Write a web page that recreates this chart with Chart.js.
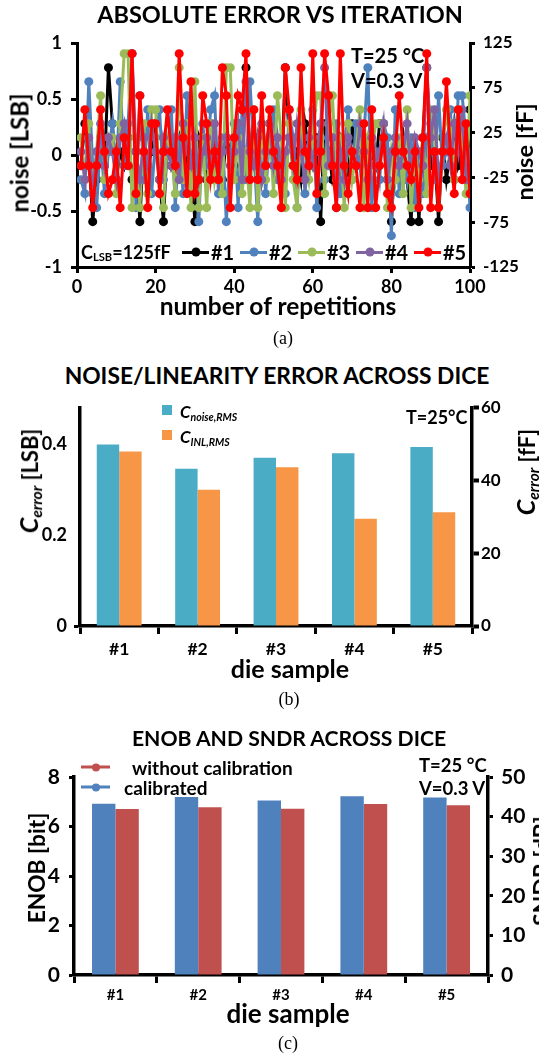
<!DOCTYPE html>
<html>
<head>
<meta charset="utf-8">
<script src="https://cdn.jsdelivr.net/npm/chart.js@4.4.0/dist/chart.umd.min.js"></script>
<style>
body{margin:0;background:#fff;width:539px;height:1055px;position:relative;overflow:hidden;font-family:Lato,'Open Sans',sans-serif;font-weight:bold;color:#000}
canvas{position:absolute;left:0}
.t{position:absolute;white-space:nowrap;transform:translate(-50%,-50%)}
.l{position:absolute;white-space:nowrap;transform:translateY(-50%)}
.rot{transform:translate(-50%,-50%) rotate(-90deg)}
.cap{font-family:'Liberation Serif',serif;font-weight:normal;font-size:18px}
.ci{font-style:italic}
sub{font-size:62%;vertical-align:-0.25em}
.legend{position:absolute;display:flex;align-items:center;transform:translateY(-50%)}
.item{display:flex;align-items:center}
.sample{position:relative;height:3px}
.dot{position:absolute;left:50%;top:50%;border-radius:50%;transform:translate(-50%,-50%)}
.sq{position:absolute;width:10px;height:10px}
</style>
</head>
<body>
<canvas id="chartA" width="539" height="320" style="top:0"></canvas>
<canvas id="chartB" width="539" height="290" style="top:390px"></canvas>
<canvas id="chartC" width="539" height="290" style="top:750px"></canvas>

<div class="t" style="left:280px;top:14px;font-size:23.5px">ABSOLUTE ERROR VS ITERATION</div>
<div class="t rot" style="left:19px;top:153px;font-size:24px">noise [LSB]</div>
<div class="t rot" style="left:524px;top:152px;font-size:23.5px">noise [fF]</div>
<div class="l" style="left:351px;top:55px;font-size:20px">T=25 °C</div>
<div class="l" style="left:351px;top:80px;font-size:20px">V=0.3 V</div>
<div class="l" style="left:81px;top:252px;font-size:18px">C<sub>LSB</sub>=125fF</div>
<div class="legend" id="legendA" style="left:182px;top:252px;font-size:20px"></div>
<div class="t" style="left:278px;top:305px;font-size:24.5px">number of repetitions</div>
<div class="t cap" style="left:283px;top:338px">(a)</div>

<div class="t" style="left:277px;top:375px;font-size:22.8px">NOISE/LINEARITY ERROR ACROSS DICE</div>
<div class="t rot" style="left:29px;top:481px;font-size:22px"><span class="ci" style="font-size:25px">C<sub>error</sub></span> [LSB]</div>
<div class="t rot" style="left:526px;top:472px;font-size:22px"><span class="ci" style="font-size:25px">C<sub>error</sub></span> [fF]</div>
<div id="legendB"></div>
<div class="l" style="left:406px;top:417px;font-size:18px">T=25°C</div>
<div class="t" style="left:290px;top:668px;font-size:25px">die sample</div>
<div class="t cap" style="left:289px;top:699px">(b)</div>

<div class="t" style="left:289px;top:738px;font-size:21.2px">ENOB AND SNDR ACROSS DICE</div>
<div class="t rot" style="left:36px;top:868px;font-size:22.7px">ENOB [bit]</div>
<div class="t rot" style="left:541px;top:871px;font-size:23px">SNDR [dB]</div>
<div id="legendC"></div>
<div class="l" style="left:419px;top:765px;font-size:18.5px">T=25 °C</div>
<div class="l" style="left:419px;top:788px;font-size:18.5px">V=0.3 V</div>
<div class="t" style="left:288px;top:1013px;font-size:26px">die sample</div>
<div class="t cap" style="left:288px;top:1043px">(c)</div>

<script>
// (a) noise of each die over 100 repetitions, in LSB
const repetitions=[1,2,3,4,5,6,7,8,9,10,11,12,13,14,15,16,17,18,19,20,21,22,23,24,25,26,27,28,29,30,31,32,33,34,35,36,37,38,39,40,41,42,43,44,45,46,47,48,49,50,51,52,53,54,55,56,57,58,59,60,61,62,63,64,65,66,67,68,69,70,71,72,73,74,75,76,77,78,79,80,81,82,83,84,85,86,87,88,89,90,91,92,93,94,95,96,97,98,99,100];
const die1=[-0.095,0.28,0.03,-0.595,-0.22,0.155,-0.095,0.78,0.28,-0.22,
0.03,-0.095,0.155,-0.22,0.03,-0.595,0.155,-0.095,0.03,0.28,
-0.22,-0.595,0.155,-0.095,0.03,0.155,-0.22,0.03,-0.095,-0.595,
0.155,0.03,-0.22,0.28,-0.095,0.03,-0.22,0.155,0.03,-0.095,
0.28,-0.22,0.78,0.03,-0.095,0.155,-0.22,0.03,0.28,-0.095,
0.03,-0.22,0.78,0.155,-0.095,0.03,-0.22,0.28,0.03,-0.095,
0.155,-0.595,0.28,0.03,-0.22,-0.095,0.155,0.03,-0.22,0.28,
-0.095,0.03,0.155,-0.22,0.03,-0.095,0.28,0.28,-0.22,-0.595,
0.03,-0.095,0.155,-0.22,-0.595,0.03,-0.595,0.155,0.78,-0.095,
0.03,-0.595,0.155,-0.22,0.03,0.28,-0.095,0.03,-0.22,0.405];
const die2=[-0.22,-0.345,0.655,-0.095,-0.47,0.155,-0.345,0.03,0.28,-0.22,
0.655,-0.095,0.28,0.905,-0.47,0.53,-0.22,0.405,-0.345,0.155,
0.405,-0.22,0.03,0.405,-0.47,0.155,-0.345,0.53,-0.22,0.03,
-0.595,0.28,-0.095,0.405,0.53,-0.345,0.155,-0.595,0.03,0.28,
-0.47,0.405,-0.22,0.655,0.03,-0.595,0.28,-0.345,0.155,0.405,
-0.22,0.03,-0.345,0.405,0.155,-0.47,0.28,-0.345,0.03,0.405,
-0.47,0.155,-0.22,0.53,-0.095,0.28,-0.345,0.03,0.405,-0.22,
0.28,-0.095,0.155,0.78,-0.47,0.03,-0.22,0.28,0.155,-0.72,
0.405,-0.345,0.03,-0.22,0.155,-0.47,0.03,-0.345,0.155,0.28,
-0.22,0.53,-0.095,0.03,0.405,-0.22,0.53,0.53,0.155,-0.47];
const die3=[0.155,-0.22,0.28,-0.345,0.03,0.53,-0.22,0.155,0.155,-0.345,
0.28,0.905,0.905,-0.47,0.155,-0.47,0.28,-0.345,0.405,0.405,
-0.22,-0.47,0.155,0.03,-0.345,0.78,-0.22,0.28,-0.47,0.655,
-0.47,0.155,-0.47,0.28,-0.22,0.03,-0.345,0.78,0.78,-0.22,
0.155,-0.345,0.03,-0.47,0.405,-0.47,0.155,-0.22,0.28,-0.345,
0.53,0.155,-0.47,0.28,-0.22,-0.47,0.405,0.03,-0.22,0.155,
0.53,0.53,-0.345,0.28,0.53,-0.22,0.155,-0.47,0.28,-0.22,
0.03,0.405,-0.47,0.155,0.03,0.28,0.28,0.28,-0.47,0.03,
-0.22,0.155,-0.345,0.405,-0.47,0.03,-0.22,0.155,-0.345,0.405,
0.155,-0.47,0.03,0.405,0.28,-0.22,0.405,0.155,-0.345,0.53];
const die4=[0.03,-0.22,0.155,-0.345,0.03,0.28,-0.095,0.155,0.03,-0.22,
0.155,0.28,-0.095,0.905,0.03,-0.22,0.155,-0.095,0.28,0.03,
-0.22,0.155,0.03,-0.095,0.155,-0.22,0.28,0.03,-0.095,0.155,
-0.22,0.03,0.155,-0.095,0.28,-0.22,0.03,0.155,-0.095,0.03,
0.28,-0.22,0.655,0.03,-0.095,0.155,-0.22,0.03,0.28,-0.095,
0.155,-0.22,0.03,0.155,-0.095,0.28,0.03,-0.22,0.155,-0.095,
0.03,0.28,0.78,-0.095,0.155,-0.47,0.03,-0.22,0.155,0.03,
-0.095,0.28,0.03,-0.22,0.155,-0.095,0.03,0.28,-0.22,0.03,
0.155,-0.095,0.03,0.28,-0.22,0.155,0.03,-0.095,0.78,0.155,
0.405,-0.22,0.03,0.155,-0.095,0.28,0.03,0.405,-0.22,0.03];
const die5=[-0.095,0.405,-0.095,-0.47,-0.095,0.405,0.03,-0.345,-0.22,0.03,
-0.47,0.155,-0.095,0.905,-0.345,0.53,0.03,-0.47,0.28,0.28,
-0.345,0.03,0.405,0.03,-0.095,0.905,0.155,-0.345,0.655,-0.345,
-0.22,0.53,0.28,-0.22,0.03,-0.22,0.78,0.53,-0.47,0.155,
0.53,0.405,0.905,-0.22,0.405,-0.22,0.53,-0.095,0.405,0.03,
-0.095,-0.47,0.78,0.405,-0.095,-0.22,0.78,0.03,-0.095,0.905,
-0.345,0.03,0.905,0.53,-0.095,-0.47,0.905,-0.095,-0.345,0.03,
-0.095,-0.47,0.28,-0.47,0.405,-0.47,-0.095,0.155,-0.345,-0.47,
0.03,0.53,0.03,-0.095,-0.22,0.03,-0.47,0.155,0.905,-0.47,
0.03,-0.47,0.03,0.655,0.03,-0.345,0.405,-0.22,0.28,-0.345];
const lsbTicks=[-1,-0.5,0,0.5,1];
const fFTicks=[-125,-75,-25,25,75,125];
const repTicks=[0,20,40,60,80,100];

// (b) rms noise and INL per die
const dice=['#1','#2','#3','#4','#5'];
const noiseRms=[0.399,0.346,0.370,0.380,0.394];
const inlRms=[0.384,0.300,0.349,0.236,0.250];
const errLsbTicks=[0,0.2,0.4];
const errFfTicks=[0,20,40,60];

// (c) ENOB per die
const enobUncal=[6.71,6.78,6.72,6.91,6.86];
const enobCal=[6.92,7.19,7.05,7.22,7.17];
const enobTicks=[0,2,4,6,8];
const sndrTicks=[0,10,20,30,40,50];

Chart.defaults.font.family="Lato, 'Open Sans', sans-serif";
Chart.defaults.font.weight='bold';
Chart.defaults.color='#000';
Chart.defaults.animation=false;

function fixTicks(list){
    return function(scale){ scale.ticks=list.map(v=>({value:v})) }
}
function fixWidth(w){ return function(scale){ scale.width=w } }
function fixHeight(h){ return function(scale){ scale.height=h } }

function axis(pos,list,size,opts){
    const horizontal= pos==='bottom'
    return Object.assign({
        position:pos,
        min:list[0],
        max:list[list.length-1],
        afterBuildTicks:fixTicks(list),
        afterFit: horizontal ? fixHeight(size) : fixWidth(size),
        border:{display:true,color:'#000',width:3},
        grid:{drawOnChartArea:false,drawTicks:true,tickLength:6,tickWidth:3,tickColor:'#000'},
        ticks:{font:{size:18,weight:'bold'},padding:6,callback:v=>String(v)}
    },opts)
}

const lineColors=['#000000','#4F81BD','#9BBB59','#8064A2','#FF0000'];
const dieSeries=[die1,die2,die3,die4,die5];

const chartA=new Chart(document.getElementById('chartA'),{
    type:'line',
    data:{
        labels:repetitions,
        datasets:dieSeries.map((d,i)=>({
            label:dice[i],
            data:d,
            borderColor:lineColors[i],
            backgroundColor:lineColors[i],
            pointBackgroundColor:lineColors[i],
            pointBorderWidth:0,
            pointRadius:4.5,
            borderWidth:3,
            tension:0,
            order:5-i
        }))
    },
    options:{
        responsive:false,
        layout:{padding:{top:43,left:0,right:0,bottom:0}},
        plugins:{legend:{display:false},tooltip:{enabled:false}},
        scales:{
            x:axis('bottom',repTicks,53,{type:'linear',ticks:{font:{size:18,weight:'bold'},padding:3,callback:v=>String(v)}}),
            y:axis('left',lsbTicks,77,{ticks:{font:{size:18,weight:'bold'},padding:9,callback:v=>String(v)}}),
            y2:axis('right',fFTicks,69,{grid:{drawOnChartArea:false,tickLength:5,tickWidth:3,tickColor:'#000'},ticks:{font:{size:17,weight:'bold'},padding:8,callback:v=>String(v)}})
        }
    }
});

const chartB=new Chart(document.getElementById('chartB'),{
    type:'bar',
    data:{
        labels:dice,
        datasets:[
            {label:'noise',data:noiseRms,backgroundColor:'#4BACC6',categoryPercentage:0.572,barPercentage:1},
            {label:'INL',data:inlRms,backgroundColor:'#F79646',categoryPercentage:0.572,barPercentage:1}
        ]
    },
    options:{
        responsive:false,
        layout:{padding:{top:13,left:0,right:0,bottom:0}},
        plugins:{legend:{display:false},tooltip:{enabled:false}},
        scales:{
            x:{
                position:'bottom',
                afterFit:fixHeight(54),
                border:{display:true,color:'#000',width:3.5},
                grid:{offset:true,drawOnChartArea:false,tickLength:8,tickWidth:3,tickColor:'#000'},
                ticks:{font:{size:17.5,weight:'bold'},padding:5}
            },
            y:axis('left',[0,0.2,0.4,0.48],80,{
                afterBuildTicks:fixTicks(errLsbTicks),
                border:{display:true,color:'#000',width:3.5},
                grid:{drawOnChartArea:false,tickLength:6,tickWidth:3,tickColor:c=>c.tick && c.tick.value===0 ? '#000':'rgba(0,0,0,0)'},
                ticks:{font:{size:18,weight:'bold'},padding:7,callback:v=>String(v)}
            }),
            y2:axis('right',errFfTicks,67,{
                border:{display:true,color:'#000',width:3.5},
                grid:{drawOnChartArea:false,tickLength:7,tickWidth:4,tickColor:'#000'},
                ticks:{font:{size:17,weight:'bold'},padding:2,callback:v=>String(v)}
            })
        }
    }
});

const chartC=new Chart(document.getElementById('chartC'),{
    type:'bar',
    data:{
        labels:dice,
        datasets:[
            {label:'calibrated',data:enobCal,backgroundColor:'#4F81BD',categoryPercentage:0.565,barPercentage:1},
            {label:'without calibration',data:enobUncal,backgroundColor:'#C0504D',categoryPercentage:0.565,barPercentage:1}
        ]
    },
    options:{
        responsive:false,
        layout:{padding:{top:27,left:0,right:0,bottom:0}},
        plugins:{legend:{display:false},tooltip:{enabled:false}},
        scales:{
            x:{
                position:'bottom',
                afterFit:fixHeight(65),
                border:{display:true,color:'#000',width:3.5},
                grid:{offset:true,drawOnChartArea:false,tickLength:8,tickWidth:3,tickColor:'#000'},
                ticks:{font:{size:15,weight:'bold'},padding:3}
            },
            y:axis('left',enobTicks,74,{
                border:{display:true,color:'#000',width:3.5},
                grid:{drawOnChartArea:false,tickLength:5,tickWidth:3,tickColor:'#000'},
                ticks:{font:{size:21,weight:'bold'},padding:9,callback:v=>String(v)}
            }),
            y2:axis('right',sndrTicks,51,{
                border:{display:true,color:'#000',width:3.5},
                grid:{drawOnChartArea:false,tickLength:5,tickWidth:3,tickColor:'#000'},
                ticks:{font:{size:21,weight:'bold'},padding:8,callback:v=>String(v)}
            })
        }
    }
});

// legends built from the dataset colours
function lineSample(color,width,dot){
    const s=document.createElement('span')
    s.className='sample'
    s.style.width=width+'px'
    s.style.background=color
    const d=document.createElement('span')
    d.className='dot'
    d.style.width=dot+'px'
    d.style.height=dot+'px'
    d.style.background=color
    s.appendChild(d)
    return s
}

const legendA=document.getElementById('legendA')
chartA.data.datasets.forEach(ds=>{
    const item=document.createElement('span')
    item.className='item'
    item.style.width='58px'
    item.appendChild(lineSample(ds.borderColor,27,9))
    const txt=document.createElement('span')
    txt.textContent=ds.label
    txt.style.marginLeft='2px'
    item.appendChild(txt)
    legendA.appendChild(item)
})

const legendB=document.getElementById('legendB')
const legendBText=['C<sub>noise,RMS</sub>','C<sub>INL,RMS</sub>']
chartB.data.datasets.forEach((ds,i)=>{
    const sq=document.createElement('div')
    sq.className='sq'
    sq.style.left='162px'
    sq.style.top=(405+i*25)+'px'
    sq.style.background=ds.backgroundColor
    legendB.appendChild(sq)
    const txt=document.createElement('div')
    txt.className='l ci'
    txt.style.left='180px'
    txt.style.top=(412+i*25)+'px'
    txt.style.fontSize='17px'
    txt.innerHTML=legendBText[i]
    legendB.appendChild(txt)
})

const legendC=document.getElementById('legendC')
const legendCRows=[{ds:1,y:767,textX:132},{ds:0,y:787,textX:124}]
legendCRows.forEach(r=>{
    const ds=chartC.data.datasets[r.ds]
    const box=document.createElement('div')
    box.className='legend'
    box.style.left='81px'
    box.style.top=r.y+'px'
    box.appendChild(lineSample(ds.backgroundColor,29,8))
    legendC.appendChild(box)
    const txt=document.createElement('div')
    txt.className='l'
    txt.style.left=r.textX+'px'
    txt.style.top=r.y+'px'
    txt.style.fontSize='19px'
    txt.textContent=ds.label
    legendC.appendChild(txt)
})
</script>
</body>
</html>
